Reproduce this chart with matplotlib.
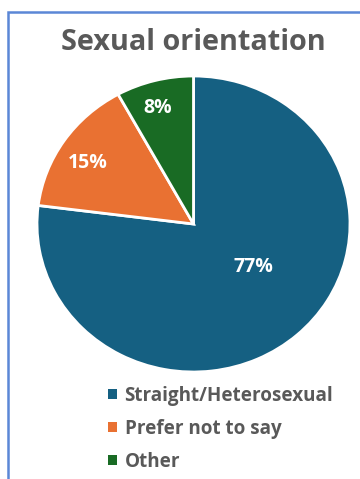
import numpy as np
import matplotlib
matplotlib.use("Agg")
import matplotlib.pyplot as plt
from matplotlib.patches import Patch
from matplotlib.lines import Line2D

# Survey breakdown (percent)
categories = ["Straight/Heterosexual", "Prefer not to say", "Other"]
shares = [77, 15, 8]
colors = ["#156082", "#E97132", "#196B24"]

# data-label placement: distance from centre and angular nudge (deg)
label_radius = [0.48, 0.79, 0.82]
label_nudge = [11, 3, 2]

TEXT_GREY = "#595959"
FONT = "Open Sans"

fig = plt.figure(figsize=(3.6, 4.79), dpi=100)
W, H = 360, 479


def px(x0, y0, w, h):
    """Pixel box (top-left origin) -> figure fraction rect."""
    return [x0 / W, 1 - (y0 + h) / H, w / W, h / H]


# ── chart frame (left + top edges) ─────────────────────────────────
fx, fy = 7.5 / W, 1 - 11.5 / H
fig.lines.append(Line2D([fx, fx, 1.0], [0.0, fy, fy], transform=fig.transFigure,
                        color="#5B87D6", lw=1.8, solid_joinstyle="miter"))

fig.text(193 / W, 1 - 42 / H, "Sexual orientation", ha="center", va="center",
         fontsize=20.8, fontweight="bold", color=TEXT_GREY, family=FONT)

# ── pie ────────────────────────────────────────────────────────────
ax = fig.add_axes(px(37, 76, 313, 296))
wedges, _ = ax.pie(shares, colors=colors, startangle=90, counterclock=False,
                   wedgeprops=dict(edgecolor="white", linewidth=2))
ax.set_aspect("auto")
ax.set_xlim(-1, 1)
ax.set_ylim(-1, 1)

for w, val, r, dn in zip(wedges, shares, label_radius, label_nudge):
    mid = np.deg2rad((w.theta1 + w.theta2) / 2 + dn)
    ax.text(r * np.cos(mid), r * np.sin(mid), f"{val}%", ha="center",
            va="center", color="white", fontsize=14, fontweight="bold",
            family=FONT)

# ── legend ─────────────────────────────────────────────────────────
handles = [Patch(facecolor=c, edgecolor="none") for c in colors]
fig.legend(handles, categories, loc="upper left",
           bbox_to_anchor=(91 / W, 1 - 369 / H), frameon=False,
           handlelength=0.46, handleheight=0.46, handletextpad=0.42,
           labelspacing=0.68,
           prop=dict(family=FONT, weight="bold", size=13.6),
           labelcolor=TEXT_GREY)

fig.savefig("out.png", dpi=100)
